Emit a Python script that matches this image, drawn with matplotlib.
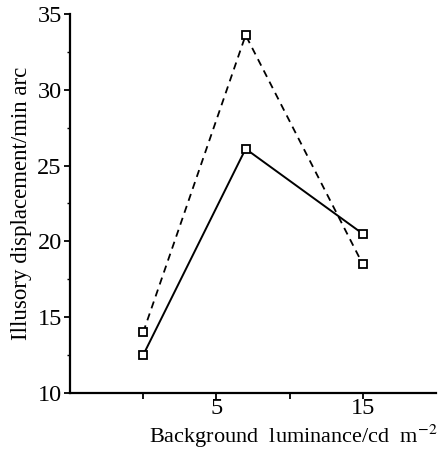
import matplotlib
matplotlib.use("Agg")
import matplotlib.pyplot as plt
from matplotlib.ticker import MultipleLocator

luminance = [0, 7, 15]
dashed_disp = [14.0, 33.6, 18.5]
solid_disp = [12.5, 26.1, 20.5]

plt.rcParams["font.family"] = ["Liberation Serif", "DejaVu Serif"]
plt.rcParams["mathtext.fontset"] = "stix"

fig = plt.figure(figsize=(4.38, 4.49), dpi=100)
ax = fig.add_axes([0.16, 0.125, 0.835, 0.844])

ax.plot(luminance, dashed_disp, color="black", lw=1.3, ls=(0, (4, 3)),
        marker="s", ms=5.5, mfc="white", mec="black", mew=1.3)
ax.plot(luminance, solid_disp, color="black", lw=1.4,
        marker="s", ms=5.5, mfc="white", mec="black", mew=1.3)

ax.set_xlim(-5, 20)
ax.set_ylim(10, 35)
ax.set_xticks([0, 5, 10, 15])
ax.set_xticklabels(["", "5", "", "15"])
ax.yaxis.set_major_locator(MultipleLocator(5))
ax.yaxis.set_minor_locator(MultipleLocator(2.5))

for s in ("top", "right"):
    ax.spines[s].set_visible(False)
ax.spines["left"].set_linewidth(1.6)
ax.spines["bottom"].set_linewidth(1.6)

ax.tick_params(axis="both", which="major", direction="out", length=4, width=1.3,
               labelsize=17.5, pad=2)
ax.tick_params(axis="x", which="major", pad=0)
ax.tick_params(axis="y", which="minor", direction="out", length=2, width=1)

ax.set_xlabel("Background  luminance/cd  m$^{-2}$", fontsize=16)
ax.xaxis.set_label_coords(0.61, -0.078)
ax.set_ylabel("Illusory displacement/min arc", fontsize=16.5, labelpad=4)

fig.savefig("out.png", dpi=100)
